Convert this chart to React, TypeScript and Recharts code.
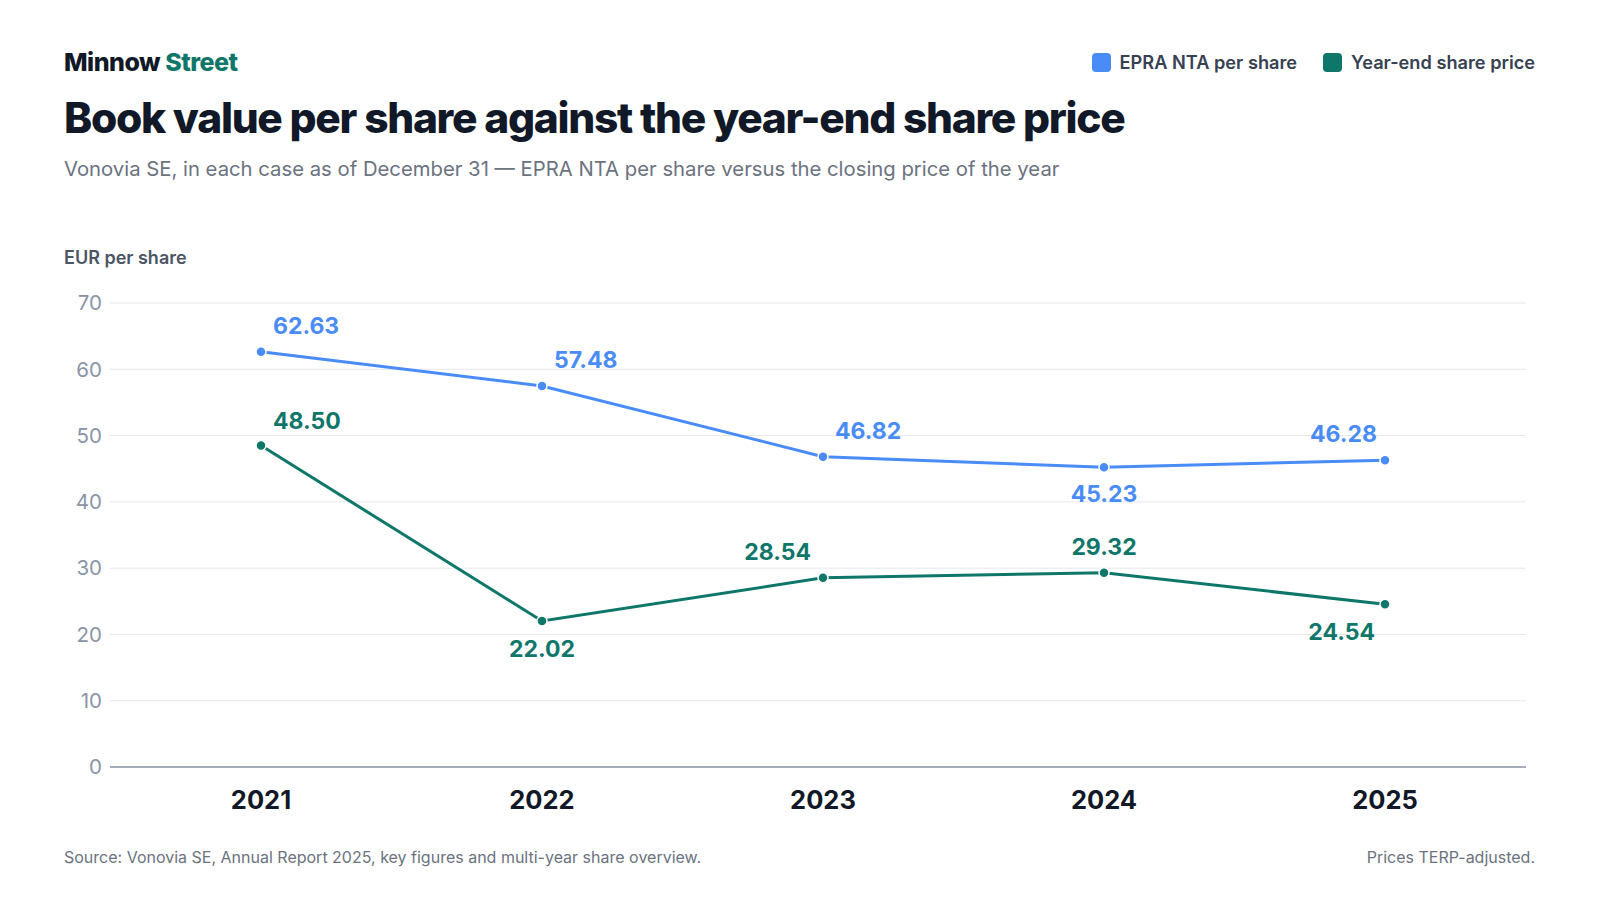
import React from "react";
import { LineChart, Line, XAxis, YAxis, CartesianGrid, LabelList } from "recharts";

const years = ["2021", "2022", "2023", "2024", "2025"];
const nta = [62.63, 57.48, 46.82, 45.23, 46.28];
const price = [48.5, 22.02, 28.54, 29.32, 24.54];
const yTicks = [0, 10, 20, 30, 40, 50, 60, 70];

const data = years.map((y, i) => ({ year: y, nta: nta[i], price: price[i] }));

const BLUE = "#4a8cf7";
const GREEN = "#0f766a";
const FONT = "Inter, 'Noto Sans', sans-serif";

const ntaPos: [string, number, number][] = [
  ["start", 12, -18],
  ["start", 12, -18],
  ["start", 12, -18],
  ["middle", 0, 35],
  ["end", -8, -18],
];
const pricePos: [string, number, number][] = [
  ["start", 12, -17],
  ["middle", 0, 36],
  ["end", -12, -18],
  ["middle", 0, -18],
  ["end", -10, 36],
];

const makeLabel = (pos: [string, number, number][], color: string) => (props: any) => {
  const { x, y, value, index } = props;
  const [anchor, dx, dy] = pos[index];
  return (
    <text x={x + dx} y={y + dy} textAnchor={anchor as any} fill={color} fontSize={23} fontWeight={700} fontFamily={FONT}>
      {Number(value).toFixed(2)}
    </text>
  );
};

export default function App() {
  return (
    <div style={{ position: "absolute", left: 0, top: 0, width: 1600, height: 900, background: "#fff", fontFamily: FONT }}>
      <div style={{ position: "absolute", left: 64, top: 47, fontSize: 25, fontWeight: 800, color: "#111827", letterSpacing: -0.5 }}>
        Minnow <span style={{ color: GREEN }}>Street</span>
      </div>
      <div style={{ position: "absolute", right: 65, top: 51, display: "flex", gap: 26, fontSize: 18.2, fontWeight: 600, color: "#374151" }}>
        <span style={{ display: "flex", alignItems: "center", gap: 9 }}>
          <span style={{ width: 19, height: 19, borderRadius: 4, background: BLUE, display: "inline-block" }} />
          EPRA NTA per share
        </span>
        <span style={{ display: "flex", alignItems: "center", gap: 9 }}>
          <span style={{ width: 19, height: 19, borderRadius: 4, background: GREEN, display: "inline-block" }} />
          Year-end share price
        </span>
      </div>
      <div style={{ position: "absolute", left: 64, top: 92, fontSize: 42.5, fontWeight: 800, color: "#111827", letterSpacing: -1.3 }}>
        Book value per share against the year-end share price
      </div>
      <div style={{ position: "absolute", left: 64, top: 156, fontSize: 20.3, color: "#6b7280" }}>
        Vonovia SE, in each case as of December 31 — EPRA NTA per share versus the closing price of the year
      </div>
      <div style={{ position: "absolute", left: 64, top: 247, fontSize: 18, fontWeight: 600, color: "#4b5563" }}>
        EUR per share
      </div>
      <div style={{ position: "absolute", left: 64, top: 847, fontSize: 16, color: "#6b7280" }}>
        Source: Vonovia SE, Annual Report 2025, key figures and multi-year share overview.
      </div>
      <div style={{ position: "absolute", right: 65, top: 847, fontSize: 16, color: "#6b7280" }}>
        Prices TERP-adjusted.
      </div>
      <div style={{ position: "absolute", left: 0, top: 0 }}>
        <LineChart width={1600} height={900} data={data} margin={{ top: 303, right: 74, bottom: 73, left: 0 }}>
          <CartesianGrid vertical={false} stroke="#e5e7eb" />
          <XAxis
            dataKey="year"
            padding={{ left: 151, right: 141 }}
            tickLine={false}
            axisLine={{ stroke: "#8a94a6", strokeWidth: 1.5 }}
            height={60}
            tickMargin={18}
            tick={{ fontSize: 25.5, fontWeight: 700, fill: "#111827", fontFamily: FONT }}
          />
          <YAxis
            width={110}
            domain={[0, 70]}
            ticks={yTicks}
            tickLine={false}
            axisLine={false}
            tickSize={0}
            tickMargin={8}
            tick={{ fontSize: 20.5, fill: "#8a94a6", fontFamily: FONT }}
          />
          <Line dataKey="nta" stroke={BLUE} strokeWidth={3} dot={{ r: 5, fill: BLUE, stroke: "#fff", strokeWidth: 1.5 }} isAnimationActive={false}>
            <LabelList dataKey="nta" content={makeLabel(ntaPos, BLUE)} />
          </Line>
          <Line dataKey="price" stroke={GREEN} strokeWidth={3} dot={{ r: 5, fill: GREEN, stroke: "#fff", strokeWidth: 1.5 }} isAnimationActive={false}>
            <LabelList dataKey="price" content={makeLabel(pricePos, GREEN)} />
          </Line>
        </LineChart>
      </div>
    </div>
  );
}
